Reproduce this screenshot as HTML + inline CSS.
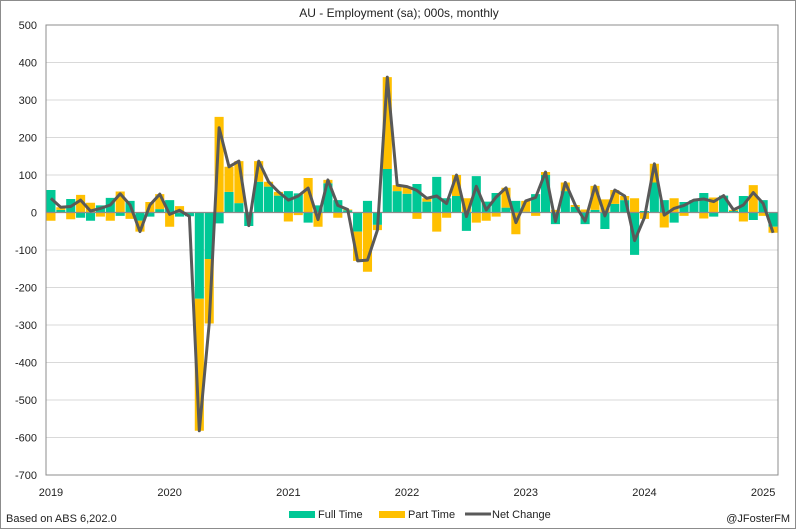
<!DOCTYPE html>
<html><head><meta charset="utf-8">
<style>
html,body{margin:0;padding:0;background:#fff;}
svg{display:block;font-family:"Liberation Sans",Arial,sans-serif;}
</style></head>
<body>
<svg id="chart" width="798" height="531" viewBox="0 0 798 531">
<rect x="0.5" y="0.5" width="795" height="528" fill="#fff" stroke="#8c8c8c"/>
<text x="399" y="17" text-anchor="middle" font-size="12" fill="#222">AU - Employment (sa); 000s, monthly</text>
<g id="grid"></g>
<g id="yaxis"></g>
<g id="bars"></g>
<g id="lines"></g>
<g id="xaxis"></g>
<g>
 <g><rect x="289" y="511" width="26" height="7" fill="#00c896"/><text x="318" y="518" font-size="11" fill="#222">Full Time</text></g>
 <g><rect x="379" y="511" width="26" height="7" fill="#ffc000"/><text x="408" y="518" font-size="11" fill="#222">Part Time</text></g>
 <g><line x1="465" y1="514" x2="491" y2="514" stroke="#595959" stroke-width="3"/><text x="492" y="518" font-size="11" fill="#222">Net Change</text></g>
</g>
<text x="6" y="522" font-size="11" fill="#222">Based on ABS 6,202.0</text>
<text x="790" y="522" font-size="11" fill="#222" text-anchor="end">@JFosterFM</text>
</svg>
<script>
const fullTime = [60,7,36,-14,-22,19,39,-9,31,-22,-11,9,33,-11,-10,-230,-124,-29,55,25,-36,82,69,45,57,51,-27,19,78,33,6,-51,31,-33,116,57,50,76,29,95,38,44,-49,97,29,52,13,31,2,49,100,-31,57,15,-31,7,-44,23,33,-113,4,80,33,-27,28,33,52,-11,45,4,44,-20,33,-38];
const partTime = [-22,7,-18,47,26,-11,-22,56,-17,-29,28,40,-38,17,0,-352,-172,255,67,112,1,55,13,10,-24,-7,92,-38,9,-14,2,-78,-158,-14,245,16,19,-17,9,-51,-14,56,38,-27,-22,-11,53,-58,29,-9,8,7,23,5,8,64,35,37,11,38,-17,50,-40,38,-9,0,-16,40,0,3,-24,73,-9,-16];
const netChange = [38,14,16,33,4,11,20,50,20,-51,20,49,-5,6,-10,-582,-296,226,122,137,-35,137,82,55,33,44,65,-19,87,19,8,-129,-127,-47,361,73,69,59,38,44,24,100,-11,70,7,41,66,-27,31,40,108,-24,80,20,-23,71,-9,60,44,-75,-13,130,-7,11,19,33,36,29,45,7,20,53,24,-54];
const yTicks = [500,400,300,200,100,0,-100,-200,-300,-400,-500,-600,-700];
const xLabels = ["2019","2020","2021","2022","2023","2024","2025"];

const L=46,R=778,T=25,B=475,yMax=500,yMin=-700;
const n=fullTime.length, step=(R-L)/n;
const y=v=>T+(yMax-v)/(yMax-yMin)*(B-T);
const xc=i=>L+(i+0.5)*step;
const NS="http://www.w3.org/2000/svg";
function mk(tag,attrs,parent){const e=document.createElementNS(NS,tag);for(const k in attrs)e.setAttribute(k,attrs[k]);parent.appendChild(e);return e;}
const grid=document.getElementById('grid'),yax=document.getElementById('yaxis'),bars=document.getElementById('bars'),lines=document.getElementById('lines'),xax=document.getElementById('xaxis');
yTicks.forEach(t=>{
 const g=mk('line',{x1:L,x2:R,y1:y(t),y2:y(t),stroke:'#d9d9d9','stroke-width':1},grid);
 
 
 const tx=mk('text',{x:37,y:y(t)+4,'text-anchor':'end','font-size':11,fill:'#222'},yax);
 tx.textContent=t;
 
 
});
const bw=step*0.92;
function seg(v0,v1,col,name){
 const r=mk('rect',{x:0,y:Math.min(y(v0),y(v1)),width:bw,height:Math.abs(y(v1)-y(v0)),fill:col},bars);
 return r;
}
for(let i=0;i<n;i++){
 const x0=L+i*step+(step-bw)/2;
 const f=fullTime[i],p=partTime[i];
 const fr=seg(0,f,'#00c896');fr.setAttribute('x',x0);
 
 
 let base=(p*f>0)?f:0;
 const pr=seg(base,base+p,'#ffc000');pr.setAttribute('x',x0);
 
 
}
const zl=mk('line',{x1:L,x2:R,y1:y(0),y2:y(0),stroke:'#8c8c8c','stroke-width':1.2},bars);


const pts=netChange.map((v,i)=>xc(i).toFixed(1)+','+y(v).toFixed(1)).join(' ');
const pl=mk('polyline',{points:pts,fill:'none',stroke:'#595959','stroke-width':3,'stroke-linejoin':'round'},lines);


const box=mk('rect',{x:L,y:T,width:R-L,height:B-T,fill:'none',stroke:'#8c8c8c','stroke-width':1},xax);


xLabels.forEach((lab,k)=>{
 const t=mk('text',{x:xc(k*12),y:496,'text-anchor':'middle','font-size':11,fill:'#222'},xax);
 t.textContent=lab;
 
 
});
</script>
</body></html>
